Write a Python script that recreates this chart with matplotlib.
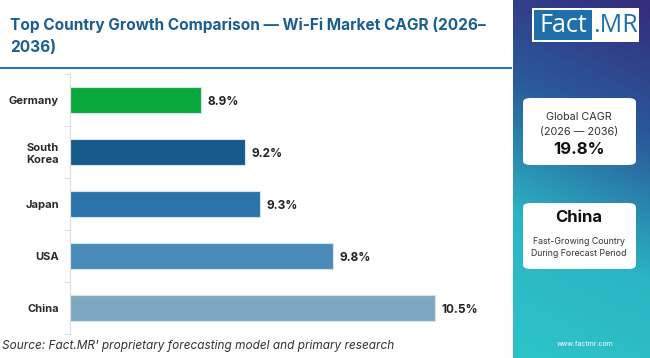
import numpy as np
import matplotlib
matplotlib.use("Agg")
import matplotlib.pyplot as plt
from matplotlib.patches import FancyBboxPatch, Rectangle
from matplotlib.colors import LinearSegmentedColormap

plt.rcParams["font.family"] = ["Inter", "DejaVu Sans"]

countries = ["Germany", "South\nKorea", "Japan", "USA", "China"]
cagr = [8.9, 9.2, 9.3, 9.8, 10.5]
bar_colors = ["#08a83a", "#175b8c", "#2a74aa", "#4a8cb9", "#7fa8c0"]
value_labels = ["8.9%", "9.2%", "9.3%", "9.8%", "10.5%"]

W, H = 650, 358
fig = plt.figure(figsize=(W / 100, H / 100), dpi=100)
fig.patch.set_facecolor("white")


def fx(px):
    return px / W


def fy(py):
    return 1 - py / H


# right gradient panel
gx = fig.add_axes([fx(513), 0, fx(W - 513), 1])
gx.set_axis_off()
cmap = LinearSegmentedColormap.from_list("fmr", ["#352b7c", "#2a5a9a", "#2bb5c4", "#2ec3c9"])
yy, xx = np.mgrid[0:1:200j, 0:1:60j]
grad = yy * 0.85 + (1 - xx) * 0.15
gx.imshow(grad, cmap=cmap, aspect="auto", extent=[0, 1, 1, 0], vmin=0, vmax=1)
gx.set_xlim(0, 1)
gx.set_ylim(1, 0)

# bar chart axes
ax = fig.add_axes([fx(70), fy(334), fx(508 - 70), fy(74) - fy(334)])
y = np.arange(len(countries))
ax.barh(y, [v - 8.0 for v in cagr], left=8.0, height=0.5, color=bar_colors,
        edgecolor="#d6e4ee", linewidth=0.8)
ax.set_xlim(8.0, 11.0)
ax.set_ylim(4.5, -0.5)
for yi, v, lab in zip(y, cagr, value_labels):
    ax.text(v + 0.045, yi + 0.04, lab, va="center", ha="left", fontsize=8.5,
            fontweight="bold", color="#222222")
ax.set_yticks(y)
ax.set_yticklabels(countries, fontsize=8, fontweight="bold", color="#2a2a2a")
ax.tick_params(axis="y", length=0, pad=8)
ax.set_yticks(np.arange(-0.5, 5.0, 1.0), minor=True)
ax.tick_params(axis="y", which="minor", length=4, color="#dddddd", width=0.8)
ax.set_xticks([])
for s in ["top", "right", "bottom"]:
    ax.spines[s].set_visible(False)
ax.spines["left"].set_color("#dddddd")
ax.spines["left"].set_linewidth(0.8)
ax.set_facecolor("none")

# title and separator
fig.text(fx(10), fy(25), "Top Country Growth Comparison \u2014 Wi-Fi Market CAGR (2026\u2013",
         fontsize=11.1, fontweight="bold", color="#1a5e8e", va="center", ha="left")
fig.text(fx(10), fy(47), "2036)", fontsize=11.1, fontweight="bold", color="#1a5e8e",
         va="center", ha="left")
fig.add_artist(Rectangle((0, fy(69)), fx(512), 2 / H, transform=fig.transFigure,
                         color="#2a74aa", lw=0))

# source
fig.text(fx(2), fy(346), "Source: Fact.MR' proprietary forecasting model and primary research",
         fontsize=8.5, style="italic", color="#333333", va="center", ha="left")

# logo
fig.add_artist(Rectangle((fx(532), fy(42)), fx(107), 34 / H, transform=fig.transFigure,
                         facecolor="white", lw=0))
fig.add_artist(Rectangle((fx(534), fy(40)), fx(58), 30 / H, transform=fig.transFigure,
                         facecolor="#1f6fa8", lw=0))
fig.text(fx(563), fy(25), "Fact", fontsize=18, color="white", ha="center", va="center",
         family=["Open Sans", "DejaVu Sans"])
fig.text(fx(615), fy(25), ".MR", fontsize=18, color="#1f6fa8", ha="center", va="center",
         family=["Open Sans", "DejaVu Sans"])

# cards
for top, bot in [(98, 165), (203, 269)]:
    fig.add_artist(FancyBboxPatch((fx(523), fy(bot)), fx(113), fy(top) - fy(bot),
                                  boxstyle="round,pad=0,rounding_size=0.012",
                                  transform=fig.transFigure, facecolor="white", lw=0))

cx = fx(579)
fig.text(cx, fy(117), "Global CAGR", fontsize=7.8, color="#333333", ha="center", va="center")
fig.text(cx, fy(132), "(2026 \u2014 2036)", fontsize=7.8, color="#333333", ha="center", va="center")
fig.text(cx, fy(150), "19.8%", fontsize=12, fontweight="bold", color="#111111",
         ha="center", va="center")
fig.text(cx, fy(218), "China", fontsize=12, fontweight="bold", color="#111111",
         ha="center", va="center")
fig.text(cx, fy(241), "Fast-Growing Country", fontsize=6.3, color="#333333",
         ha="center", va="center")
fig.text(cx, fy(254), "During Forecast Period", fontsize=6.3, color="#333333",
         ha="center", va="center")
fig.text(fx(585), fy(344), "www.factmr.com", fontsize=5, color="white",
         ha="center", va="center")

fig.savefig("out.png", dpi=100)
